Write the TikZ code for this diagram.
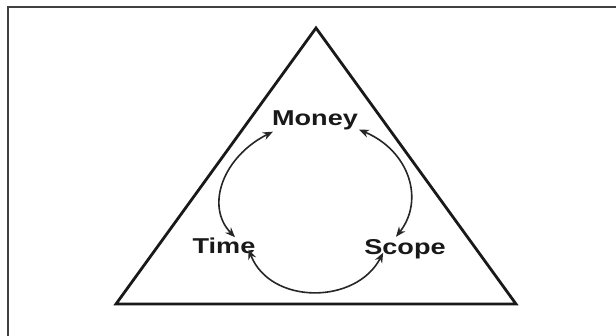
\documentclass[tikz,border=0pt]{standalone}
\usepackage{fontspec}
\setmainfont{Liberation Sans}[FakeStretch=1.26]
\usetikzlibrary{arrows.meta,calc}
\begin{document}
\begin{tikzpicture}[x=1pt,y=-1pt,
  lbl/.style={font=\bfseries\fontsize{21.5}{24}\selectfont,inner sep=0pt,anchor=base,text=black!90},
  cyc/.style={line width=1.6pt,black!85,{Stealth[length=10pt,width=8pt]}-{Stealth[length=10pt,width=8pt]}},
  tri/.style={line width=2.8pt,black!90,line join=miter},
  frame/.style={line width=1.4pt,black!75}]
\useasboundingbox (0,0) rectangle (616,336);
\fill[white] (0,0) rectangle (616,336);
\draw[frame] (8,336) -- (8,7) -- (616,7);
\coordinate (apex) at (316,28);
\coordinate (bl) at (116,304);
\coordinate (br) at (516,304);
\draw[tri] (apex) -- (bl) -- (br) -- cycle;
\node[lbl] (money) at (315,126) {Money};
\node[lbl] (time) at (224,254) {Time};
\node[lbl] (scope) at (405,255) {Scope};
\draw[cyc] ($(money.south west)+(1,1)$) .. controls ($(money.south west)+(-49,26)$) and ($(time.north)+(-19,-32)$) .. ($(time.north)+(11,-1)$);
\draw[cyc] ($(money.south east)+(1,-1)$) .. controls ($(money.south east)+(51,20)$) and ($(scope.north)+(20,-40)$) .. ($(scope.north)+(-9,-3)$);
\draw[cyc] ($(time.east)+(-7,3)$) .. controls (270,305) and (356,305) .. ($(scope.west)+(19,3)$);
\end{tikzpicture}
\end{document}
